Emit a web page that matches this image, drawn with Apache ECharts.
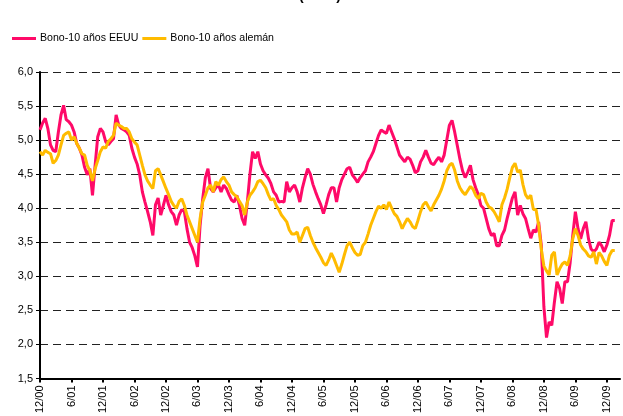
<!DOCTYPE html>
<html>
<head>
<meta charset="utf-8">
<script src="https://cdn.jsdelivr.net/npm/echarts@6/dist/echarts.min.js"></script>
<style>
html,body{margin:0;padding:0;background:#fff;}
#chart{width:623px;height:416px;}
</style>
</head>
<body>
<div id="chart"></div>
<script>
// Tick labels every 6 months (one category = half a month)
const tickLabels = ['12/00','6/01','12/01','6/02','12/02','6/03','12/03','6/04','12/04','6/05','12/05','6/06','12/06','6/07','12/07','6/08','12/08','6/09','12/09'];
const seriesNames = ['Bono-10 años EEUU', 'Bono-10 años alemán'];

const usYield = [
5.15,5.25,5.32,5.17,4.93,4.85,4.83,5.12,5.37,5.51,
5.30,5.27,5.22,5.12,4.95,4.88,4.78,4.60,4.49,4.58,
4.19,4.63,5.05,5.17,5.12,4.98,4.93,4.98,5.02,5.37,
5.22,5.17,5.15,5.12,5.07,4.88,4.75,4.65,4.49,4.24,
4.09,3.95,3.80,3.60,4.05,4.15,3.90,4.04,4.19,4.05,
3.95,3.90,3.75,3.90,3.98,3.95,3.70,3.50,3.42,3.30,
3.14,3.75,4.14,4.45,4.58,4.29,4.24,4.30,4.34,4.24,
4.34,4.29,4.20,4.12,4.09,4.19,4.04,3.85,3.75,4.09,
4.50,4.83,4.73,4.83,4.65,4.55,4.49,4.44,4.36,4.24,
4.19,4.09,4.10,4.09,4.39,4.24,4.30,4.34,4.24,4.09,
4.30,4.45,4.58,4.50,4.35,4.24,4.14,4.05,3.92,4.05,
4.20,4.30,4.30,4.09,4.30,4.42,4.50,4.58,4.60,4.49,
4.44,4.38,4.45,4.50,4.55,4.68,4.75,4.83,4.95,5.07,
5.15,5.12,5.10,5.22,5.12,5.02,4.90,4.78,4.73,4.68,
4.75,4.72,4.63,4.52,4.55,4.68,4.75,4.85,4.75,4.66,
4.64,4.70,4.75,4.68,4.78,5.00,5.22,5.29,5.12,4.92,
4.72,4.55,4.45,4.53,4.63,4.42,4.30,4.20,4.04,4.00,
3.85,3.70,3.60,3.63,3.45,3.45,3.60,3.68,3.85,4.00,
4.15,4.24,3.90,4.04,3.92,3.85,3.70,3.56,3.68,3.65,
3.80,3.46,2.55,2.10,2.33,2.28,2.62,2.92,2.82,2.60,
2.92,2.92,3.20,3.60,3.95,3.70,3.55,3.70,3.80,3.55,
3.40,3.36,3.40,3.50,3.45,3.36,3.46,3.60,3.82,3.82
];

const deYield = [
4.83,4.78,4.85,4.82,4.80,4.66,4.70,4.78,4.93,5.07,
5.10,5.12,5.00,5.05,4.95,4.88,4.80,4.78,4.63,4.55,
4.40,4.58,4.70,4.83,4.90,4.88,4.98,5.02,5.07,5.25,
5.22,5.20,5.17,5.17,5.12,5.02,4.97,4.93,4.78,4.63,
4.49,4.40,4.34,4.29,4.55,4.58,4.49,4.39,4.29,4.20,
4.10,4.04,4.00,4.10,4.14,4.04,3.90,3.80,3.70,3.60,
3.50,3.85,4.09,4.19,4.30,4.34,4.24,4.39,4.34,4.42,
4.46,4.39,4.34,4.24,4.20,4.17,4.10,4.04,3.90,4.09,
4.19,4.24,4.30,4.39,4.41,4.36,4.30,4.20,4.12,4.14,
4.04,3.98,3.90,3.85,3.80,3.68,3.62,3.62,3.65,3.50,
3.60,3.70,3.72,3.60,3.50,3.42,3.35,3.28,3.20,3.16,
3.24,3.34,3.26,3.16,3.06,3.18,3.32,3.45,3.50,3.42,
3.35,3.31,3.32,3.45,3.50,3.62,3.75,3.85,3.95,4.03,
4.00,4.05,3.98,4.09,4.00,3.92,3.88,3.80,3.70,3.78,
3.85,3.80,3.73,3.70,3.82,3.95,4.05,4.09,4.02,3.96,
4.05,4.12,4.19,4.28,4.40,4.55,4.63,4.66,4.56,4.40,
4.30,4.24,4.20,4.26,4.32,4.28,4.19,4.14,4.22,4.20,
4.09,4.02,4.00,3.95,3.88,3.80,4.05,4.15,4.28,4.45,
4.60,4.66,4.53,4.56,4.35,4.20,4.14,4.19,3.98,3.98,
3.75,3.40,3.15,3.08,3.02,3.31,3.36,3.02,3.11,3.18,
3.21,3.16,3.30,3.55,3.70,3.60,3.46,3.40,3.36,3.30,
3.28,3.36,3.18,3.35,3.30,3.22,3.16,3.31,3.38,3.38
];

// half-month periods starting Dec 2000
const nCats = 222;
const categories = [];
for (let i = 0; i < nCats; i++) {
  const m = 11 + Math.floor(i / 2);
  const y = 2000 + Math.floor(m / 12);
  const mm = (m % 12) + 1;
  categories.push(y + '-' + (mm < 10 ? '0' + mm : mm) + (i % 2 ? 'b' : 'a'));
}
const STEP = 12;

const chart = echarts.init(document.getElementById('chart'), null, {renderer: 'canvas'});
const font = 'Liberation Sans, Arial, sans-serif';
chart.setOption({
  animation: false,
  backgroundColor: '#fff',
  title: {
    text: '(en %)',
    left: 294,
    top: -16,
    textStyle: {fontFamily: font, fontSize: 14, fontWeight: 'bold', color: '#000'}
  },
  legend: {
    left: 12, top: 33, padding: 0,
    itemWidth: 24, itemHeight: 3, itemGap: 4,
    icon: 'rect',
    textStyle: {fontFamily: font, fontSize: 10.6, color: '#000', padding: [0,0,0,-1]},
    data: seriesNames
  },
  grid: {left: 40, right: 3, top: 72, bottom: 36, containLabel: false},
  xAxis: {
    type: 'category',
    data: categories,
    boundaryGap: false,
    axisLine: {lineStyle: {color: '#000', width: 2}},
    axisTick: {show: true, length: 4, interval: (i) => i % STEP === 0, lineStyle: {color: '#000', width: 2}},
    axisLabel: {
      interval: (i) => i % STEP === 0,
      rotate: 90,
      margin: 7,
      fontFamily: font, fontSize: 11, color: '#000',
      formatter: (v, i) => tickLabels[i / STEP] || ''
    },
    splitLine: {show: false}
  },
  yAxis: {
    type: 'value',
    min: 1.5, max: 6, interval: 0.5,
    axisLine: {show: true, lineStyle: {color: '#000', width: 2}},
    axisTick: {show: true, length: 4, lineStyle: {color: '#000', width: 1}},
    axisLabel: {
      margin: 7,
      fontFamily: font, fontSize: 11, color: '#000',
      formatter: (v) => v.toFixed(1).replace('.', ',')
    },
    splitLine: {show: true, lineStyle: {color: '#222', width: 1, type: [8, 5]}}
  },
  series: [
    {
      name: seriesNames[0], type: 'line', data: usYield,
      showSymbol: false, symbol: 'none',
      lineStyle: {color: '#FF0A68', width: 3},
      itemStyle: {color: '#FF0A68'}
    },
    {
      name: seriesNames[1], type: 'line', data: deYield,
      showSymbol: false, symbol: 'none',
      lineStyle: {color: '#FFBB00', width: 3},
      itemStyle: {color: '#FFBB00'}
    }
  ]
});
</script>
</body>
</html>
